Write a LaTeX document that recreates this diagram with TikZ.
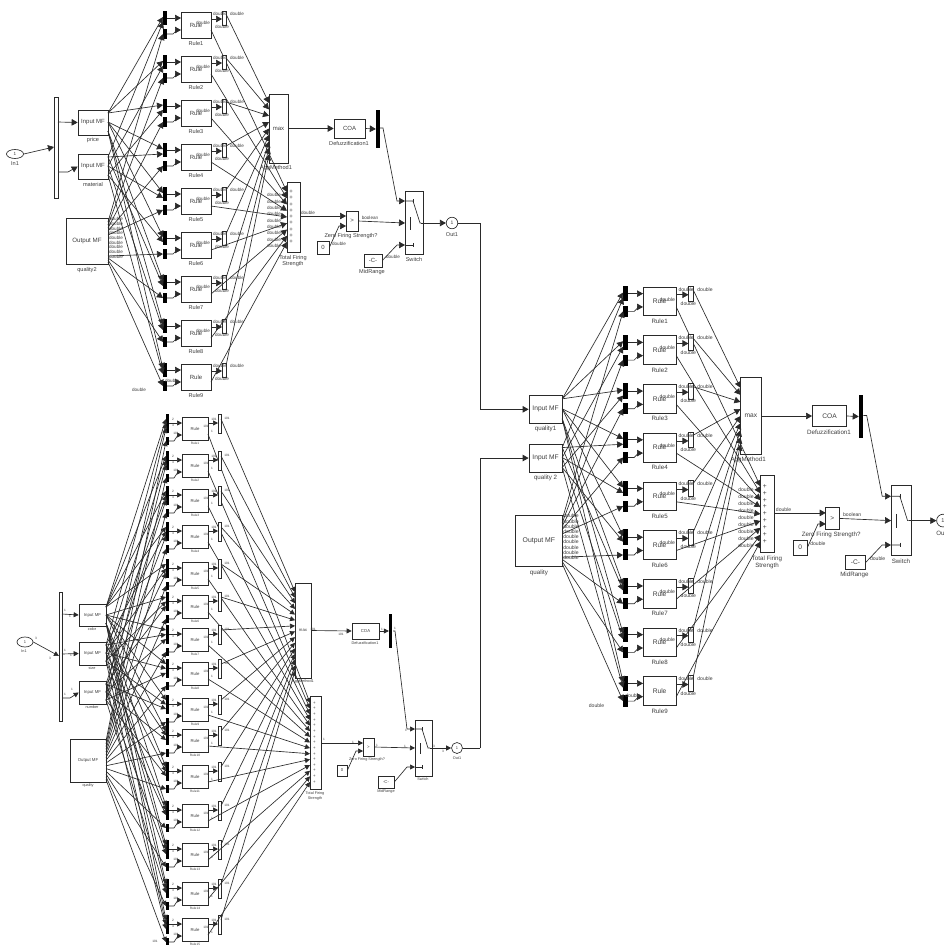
\documentclass[tikz,border=0pt]{standalone}
\usepackage{fontspec}
\setmainfont{Liberation Sans}
\usetikzlibrary{arrows.meta,shapes.geometric}
\definecolor{ink}{HTML}{2A2A2A}
\definecolor{txt}{HTML}{3E3E3E}
\tikzset{
  plainw/.style={draw=ink,line width=.65pt},
  wire/.style={plainw,-{Triangle[length=6pt,width=6.5pt]}},
  wireb/.style={plainw,-{Triangle[length=5pt,width=5pt]}},
  busw/.style={draw=ink,line width=.85pt},
  blk/.style={draw=ink,line width=.65pt,fill=white,inner sep=0pt,text=txt,font=\fontsize{6}{7}\selectfont},
  blkb/.style={blk,font=\fontsize{4.3}{5}\selectfont},
  blkbig/.style={blk,font=\fontsize{6.2}{7}\selectfont},
  thickbar/.style={fill=black,draw=none,inner sep=0pt},
  thinbar/.style={draw=ink,line width=.6pt,fill=white,inner sep=0pt},
  lab/.style={inner sep=0pt,text=txt,font=\fontsize{4.6}{5}\selectfont},
  labn/.style={inner sep=0pt,text=txt,font=\fontsize{5.6}{6.6}\selectfont,align=center},
  labb/.style={inner sep=0pt,text=txt,font=\fontsize{3.8}{4.4}\selectfont,align=center},
  labt/.style={inner sep=0pt,text=txt,font=\fontsize{3.2}{4}\selectfont},
}
% box from its corners: [style] name x1 y1 x2 y2 text
\newcommand\bx[6][blk]{%
  \pgfmathsetmacro\bcx{((#3)+(#5))/2}\pgfmathsetmacro\bcy{((#4)+(#6))/2}%
  \pgfmathsetmacro\bwd{(#5)-(#3)}\pgfmathsetmacro\bht{(#6)-(#4)}%
  \node[#1,minimum width=\bwd pt,minimum height=\bht pt] (#2) at (\bcx,\bcy) {\boxtext};}
\newcommand\boxtext{}
\newcommand\tbx[7][blk]{\renewcommand\boxtext{#7}\bx[#1]{#2}{#3}{#4}{#5}{#6}\renewcommand\boxtext{}}
% the 9-rule fuzzy controller
\newcommand\fuzzyblock[3]{%
  \tbx{mf1}{78}{110}{108}{135}{Input MF}
  \tbx{mf2}{78}{154}{108}{179}{Input MF}
  \tbx[blkbig]{mfo}{66}{218}{108}{264}{Output MF}
  \node[labn] (lmf1) at (93,140.5) {#1};
  \node[labn] (lmf2) at (93,184.5) {#2};
  \node[labn] (lmfo) at (87,270) {#3};
  \foreach \p/\yy in {1/113,2/122,3/131} {\coordinate (mf1p\p) at (108,\yy);}
  \foreach \p/\yy in {1/157,2/166,3/175} {\coordinate (mf2p\p) at (108,\yy);}
  \foreach \p/\yy in {1/219,2/223.7,3/228.4,4/233.1,5/237.8,6/242.5,7/247.2,8/251.9,9/256.6} {%
    \node[lab] (lo\p) at (116,\yy) {double};}
  \tbx{max}{269}{94}{288}{163}{max}
  \tbx{tot}{287}{182}{300}{252}{}
  \node[labn] (lagg) at (276,168.5) {AggMethod1};
  \node[labn] (ltot) at (293,261) {Total Firing\\Strength};
  \foreach \i/\oy in {1/222,2/225,3/228,4/231,5/235,6/256,7/258,8/260,9/262} {%
    \pgfmathtruncatemacro\pa{(\i+2)/3}
    \pgfmathtruncatemacro\mb{mod(\i-1,3)+1}
    \pgfmathsetmacro\rt{12+44*(\i-1)}
    \tbx{R\i}{181}{\rt}{211}{\rt+26}{Rule}
    \tbx[thickbar]{Ma\i}{163}{\rt-1}{167}{\rt+13}{}
    \tbx[thickbar]{Mb\i}{163}{\rt+17}{167}{\rt+27}{}
    \tbx[thinbar]{S\i}{222}{\rt-1}{226}{\rt+13}{}
    \coordinate (mo\i) at (108,\oy);
    \coordinate (Maa\i) at (163,\rt+5);
    \coordinate (Mab\i) at (163,\rt+10);
    \coordinate (Mbi\i) at (163,\rt+22);
    \coordinate (Mao\i) at (167,\rt+6);
    \coordinate (Rai\i) at (181,\rt+6);
    \coordinate (Mbo\i) at (167,\rt+22);
    \coordinate (Mbk\i) at (173,\rt+22);
    \coordinate (Mbj\i) at (177,\rt+18);
    \coordinate (Rbi\i) at (181,\rt+18);
    \coordinate (Rao\i) at (211,\rt+7);
    \coordinate (Sai\i) at (222,\rt+7);
    \coordinate (Rbo\i) at (211,\rt+18);
    \coordinate (Sao\i) at (226,\rt+2);
    \coordinate (Mxi\i) at (269,103+6.4*\i-6.4);
    \coordinate (Tti\i) at (287,192+6.25*\i-6.25);
    \node[labn] (lr\i) at (196,\rt+31) {Rule\i};
    \draw[wire] (mf1p\pa) -- (Maa\i);
    \draw[wire] (mf2p\mb) -- (Mab\i);
    \draw[wire] (mo\i) -- (Mbi\i);
    \draw[wire] (Mao\i) -- (Rai\i);
    \draw[wire] (Mbo\i) -- (Mbk\i) -- (Mbj\i) -- (Rbi\i);
    \draw[wire] (Rao\i) -- (Sai\i);
    \draw[wire] (Sao\i) -- (Mxi\i);
    \draw[wire] (Rbo\i) -- (Tti\i);
    \ifnum\i=9 \else\node[lab] (la\i) at (203,\rt+11) {double};\fi
    \node[lab] (lb\i) at (220,\rt+2) {double};
    \node[lab] (lc\i) at (237,\rt+2) {double};
    \node[lab] (ld\i) at (222,\rt+15) {double};
    \node[lab] (le\i) at (274,189+6.3*\i) {double};
    \node[labt,font=\fontsize{6}{6}\selectfont] (plus\i) at (291,192+6.25*\i-6.25) {+};
  }
  \node[lab] (lx1) at (172,381) {double};
  \node[lab] (lx2) at (139,390) {double};
  \tbx{coa}{334}{119}{365}{138}{COA}
  \node[labn] (lcoa) at (349,143.5) {Defuzzification1};
  \tbx[thickbar]{dbar}{376}{110}{379.5}{148}{}
  \tbx{sw}{405}{191}{423}{254}{}
  \node[labn] (lsw) at (414,259.5) {Switch};
  \tbx{gt}{346}{211}{358}{231}{>}
  \tbx{zero}{317}{241}{329}{254}{0}
  \tbx{mid}{364}{254}{382}{267}{-C-}
  \node[labn] (lzf) at (351,236) {Zero Firing Strength?};
  \node[labn] (lmid) at (372,272.5) {MidRange};
  \node[draw=ink,line width=.65pt,fill=white,circle,minimum size=11.5pt,inner sep=0pt,text=txt,font=\fontsize{5}{6}\selectfont] (out) at (452,223) {1};
  \node[labn] (lout) at (452,234.5) {Out1};
  \coordinate (swa) at (405,201);
  \coordinate (swb) at (405,223);
  \coordinate (swc) at (405,245);
  \coordinate (gta) at (346,216);
  \coordinate (gtb) at (346,226);
  \coordinate (tout) at (300,216);
  \coordinate (dout) at (380,128);
  \coordinate (dk) at (383,128);
  \coordinate (swak) at (397,201);
  \coordinate (swck) at (397,245);
  \coordinate (gtk) at (339,226);
  \draw[wire] (max.east) -- (coa.west);
  \draw[wire] (coa.east) -- (dbar.west);
  \draw[wire] (dout) -- (dk) -- (swak) -- (swa);
  \draw[wire] (tout) -- (gta);
  \draw[wire] (zero.east) -- (gtk) -- (gtb);
  \draw[wire] (gt.east) -- (swb);
  \draw[wire] (mid.east) -- (swck) -- (swc);
  \coordinate (swo) at (421,223);
  \draw[plainw] (swa) -- (413,201) -- (420,223) -- (swo);
  \draw[plainw] (swc) -- (413,245);
  \draw[plainw] (413,243) -- (413,247);
  \draw[plainw] (413,199) -- (413,203);
  \draw[plainw] (410,217) -- (410,230);
  \draw[wire] (swo) -- (out.west);
  \node[lab] (l1) at (308,213) {double};
  \node[lab] (l2) at (370,218) {boolean};
  \node[lab] (l3) at (339,244) {double};
  \node[lab] (l4) at (393,257) {double};
}
\begin{document}
\begin{tikzpicture}[x=1pt,y=-1pt]
\useasboundingbox (0,0) rectangle (944,945);
\clip (0,0) rectangle (944,945);
\fill[white] (0,0) rectangle (944,945);
% ---------- block A
\begin{scope}[name prefix=A-]
  \node[ellipse,draw=ink,line width=.65pt,fill=white,minimum width=17pt,minimum height=9pt,inner sep=0pt,text=txt,font=\fontsize{4.6}{5}\selectfont] (in) at (15,154) {1};
  \node[labn] (lin) at (15,164) {In1};
  \tbx[thinbar]{demux}{54}{97}{58}{198}{}
  \fuzzyblock{price}{material}{quality2}
  \coordinate (dma) at (54,147);
  \coordinate (dmo) at (58,122);
  \coordinate (dmp) at (58,172);
  \coordinate (dmq) at (68,172);
  \draw[wire] (in.east) -- (dma);
  \draw[wire] (dmo) -- (mf1.west);
  \draw[wire] (dmp) -- (dmq) -- (mf2.west);
\end{scope}
% ---------- block C
\begin{scope}[name prefix=C-,shift={(442.63,273.72)},scale=1.107,transform shape]
  \fuzzyblock{quality1}{quality 2}{quality}
\end{scope}
% ---------- block B
\begin{scope}[name prefix=B-]
  \node[ellipse,draw=ink,line width=.65pt,fill=white,minimum width=16pt,minimum height=10pt,inner sep=0pt,text=txt,font=\fontsize{4}{5}\selectfont] (in) at (25,642) {1};
  \node[labb] (lin) at (24,651) {In1};
  \tbx[thinbar]{demux}{59}{592}{62}{721}{}
  \tbx[blkb]{mf1}{79}{604}{106}{626}{Input MF}
  \tbx[blkb]{mf2}{79}{642}{106}{665}{Input MF}
  \tbx[blkb]{mf3}{79}{681}{106}{704}{Input MF}
  \tbx[blkb]{mfo}{70}{739}{106}{782}{Output MF}
  \node[labb] (lm1) at (92,629.5) {color};
  \node[labb] (lm2) at (92,668.5) {size};
  \node[labb] (lm3) at (92,707.5) {number};
  \node[labb] (lmo) at (88,786) {quality};
  \coordinate (dma) at (59,656);
  \coordinate (dmo) at (62,614);
  \coordinate (dmp) at (62,654);
  \coordinate (dmq) at (62,698);
  \coordinate (dmr) at (70,698);
  \draw[wireb] (in.east) -- (dma);
  \draw[wireb] (dmo) -- (mf1.west);
  \draw[wireb] (dmp) -- (mf2.west);
  \draw[wireb] (dmq) -- (dmr) -- (mf3.west);
  \foreach \x/\y/\s [count=\n] in {36/638/3,50/658/3,65/610/1,70/616/1,65/650/1,71/655/1,65/694/1,72/689/1} {%
    \node[labt] (ld\n) at (\x,\y) {\s};}
  \foreach \m/\yt in {1/604,2/642,3/681} {%
    \foreach \p in {1,2,3} {\coordinate (mf\m p\p) at (106,\yt+8*\p-5);}}
  \tbx[blkb]{max}{295}{583}{311}{678}{max}
  \tbx[blkb]{tot}{310}{696}{321}{789}{}
  \node[labb] (lagg) at (303,682) {AggMethod1};
  \node[labb] (ltot) at (315,796) {Total Firing\\Strength};
  \foreach \i/\rt in {1/417,2/454,3/489,4/525,5/562,6/595,7/628,8/662,9/698,10/729,11/765,12/804,13/843,14/882,15/918} {%
    \pgfmathtruncatemacro\cm{int((\i-1)/5)+1}
    \pgfmathtruncatemacro\sm{mod(\i-1,3)+1}
    \pgfmathtruncatemacro\nm{mod(\i,3)+1}
    \tbx[blkb]{R\i}{182}{\rt}{208}{\rt+23}{Rule}
    \tbx[thickbar]{Ma\i}{166}{\rt-3}{169}{\rt+16}{}
    \tbx[thickbar]{Mb\i}{166}{\rt+20}{169}{\rt+28}{}
    \tbx[thinbar]{S\i}{218}{\rt-3}{221}{\rt+16}{}
    \coordinate (mo\i) at (106,741+2.75*\i-2.75);
    \coordinate (Maa\i) at (166,\rt+2);
    \coordinate (Mab\i) at (166,\rt+6.5);
    \coordinate (Mac\i) at (166,\rt+11);
    \coordinate (Mbi\i) at (166,\rt+24);
    \coordinate (Mao\i) at (169,\rt+6);
    \coordinate (Rai\i) at (182,\rt+6);
    \coordinate (Mbo\i) at (169,\rt+24);
    \coordinate (Mbk\i) at (174,\rt+24);
    \coordinate (Mbj\i) at (178,\rt+18);
    \coordinate (Rbi\i) at (182,\rt+18);
    \coordinate (Rao\i) at (208,\rt+6);
    \coordinate (Sai\i) at (218,\rt+6);
    \coordinate (Rbo\i) at (208,\rt+17);
    \coordinate (Sao\i) at (221,\rt+2);
    \coordinate (Mxi\i) at (295,592+5.64*\i-5.64);
    \coordinate (Tti\i) at (310,703+5.64*\i-5.64);
    \node[labt] (lr\i) at (195,\rt+26) {Rule\i};
    \draw[wireb] (mf1p\cm) -- (Maa\i);
    \draw[wireb] (mf2p\sm) -- (Mab\i);
    \draw[wireb] (mf3p\nm) -- (Mac\i);
    \draw[wireb] (mo\i) -- (Mbi\i);
    \draw[wireb] (Mao\i) -- (Rai\i);
    \draw[wireb] (Mbo\i) -- (Mbk\i) -- (Mbj\i) -- (Rbi\i);
    \draw[wireb] (Rao\i) -- (Sai\i);
    \draw[wireb] (Sao\i) -- (Mxi\i);
    \draw[wireb] (Rbo\i) -- (Tti\i);
    \node[labt] (la\i) at (173,\rt+2) {2};
    \node[labt] (lb\i) at (173,\rt+8) {3};
    \node[labt] (lc\i) at (176,\rt+16) {101};
    \node[labt] (ld\i) at (206,\rt+9) {101};
    \node[labt] (le\i) at (214,\rt+2) {101};
    \node[labt] (lf\i) at (227,\rt+1) {101};
    \node[labt] (lg\i) at (212,\rt+14) {1};
    \node[labt,font=\fontsize{4.4}{5}\selectfont] (plus\i) at (314.5,703+5.64*\i-5.64) {+};
  }
  \node[labt] (lx1) at (155,941) {101};
  \tbx[blkb]{coa}{352}{623}{379}{639}{COA}
  \node[labb] (lcoa) at (365,643) {Defuzzification1};
  \tbx[thickbar]{dbar}{389}{614}{392}{648}{}
  \tbx[blkb]{sw}{415}{720}{432}{776}{}
  \node[labb] (lsw) at (423,779.5) {Switch};
  \tbx[blkb]{gt}{363}{738}{374}{756}{>}
  \tbx[blkb]{zero}{337}{765}{347}{776}{0}
  \tbx[blkb]{mid}{378}{776}{394}{788}{-C-}
  \node[labb] (lzf) at (367,760) {Zero Firing Strength?};
  \node[labb] (lmid) at (386,792) {MidRange};
  \node[draw=ink,line width=.65pt,fill=white,circle,minimum size=11pt,inner sep=0pt,text=txt,font=\fontsize{4}{5}\selectfont] (out) at (457,748) {1};
  \node[labb] (lout) at (457,758) {Out1};
  \coordinate (swa) at (415,729);
  \coordinate (swb) at (415,748);
  \coordinate (swc) at (415,767);
  \coordinate (gta) at (363,743);
  \coordinate (gtb) at (363,751);
  \coordinate (tout) at (321,743);
  \coordinate (dout) at (393,631);
  \coordinate (dk) at (395,631);
  \coordinate (swak) at (407,729);
  \coordinate (swck) at (407,767);
  \coordinate (gtk) at (356,751);
  \draw[wireb] (max.east) -- (coa.west);
  \draw[wireb] (coa.east) -- (dbar.west);
  \draw[wireb] (dout) -- (dk) -- (swak) -- (swa);
  \draw[wireb] (tout) -- (gta);
  \draw[wireb] (zero.east) -- (gtk) -- (gtb);
  \draw[wireb] (gt.east) -- (swb);
  \draw[wireb] (mid.east) -- (swck) -- (swc);
  \coordinate (swo) at (430,748);
  \draw[plainw] (swa) -- (422,729) -- (428,748) -- (swo);
  \draw[plainw] (swc) -- (422,767);
  \draw[plainw] (422,765) -- (422,769);
  \draw[plainw] (422,727) -- (422,731);
  \draw[plainw] (420,743) -- (420,754);
  \draw[wireb] (swo) -- (out.west);
  \foreach \x/\y/\s [count=\n] in {313/629/101,341/634/101,382/629/1,395/628/1,406/730/1,324/739/1,377/745/1,405/746/1,434/746/3,443/751/3,353/742/1} {%
    \node[labt] (lw\n) at (\x,\y) {\s};}
\end{scope}
% ---------- links between blocks
\coordinate (bus) at (480,330);
\draw[busw] (A-out.east) -| (bus);
\draw[wire,line width=.85pt] (bus) |- (C-mf1.west);
\draw[busw] (B-out.east) -| (bus |- B-out.east);
\draw[wire,line width=.85pt] (bus |- B-out.east) |- (C-mf2.west);
\end{tikzpicture}
\end{document}
